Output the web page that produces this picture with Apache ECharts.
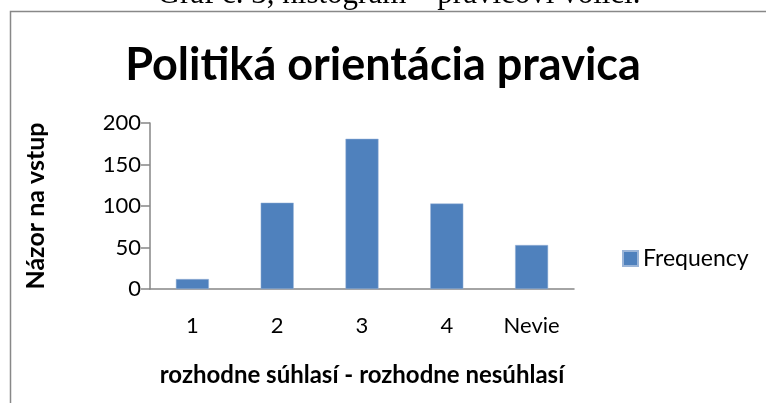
<!DOCTYPE html>
<html>
<head>
<meta charset="utf-8">
<script src="https://cdn.jsdelivr.net/npm/echarts@6/dist/echarts.min.js"></script>
<style>
  html, body { margin: 0; padding: 0; background: #fff; }
  #chart { width: 766px; height: 403px; }
</style>
</head>
<body>
<div id="chart"></div>
<script>
const categories = ['1', '2', '3', '4', 'Nevie']
const frequency = [12, 104, 181, 103, 53]
const yTicks = [0, 50, 100, 150, 200]

const chart = echarts.init(document.getElementById('chart'))
chart.setOption({
  animation: false,
  textStyle: { fontFamily: 'Lato' },
  graphic: [
    // caption of the page, cut off at the top edge
    {
      type: 'text', x: 399, y: 10,
      style: {
        text: 'Graf č. 3, histogram – pravicoví voliči.',
        font: '31px "Liberation Serif"', fill: '#000',
        align: 'center', verticalAlign: 'bottom'
      }
    },
    {
      type: 'rect', shape: { x: 10.5, y: 11.5, width: 800, height: 420 },
      style: { fill: 'none', stroke: '#888', lineWidth: 1.5 }
    }
  ],
  title: {
    text: 'Politiká orientácia pravica',
    left: 'center', top: 38,
    textStyle: { fontFamily: 'Lato', fontWeight: 'bold', fontSize: 45, color: '#000' }
  },
  legend: {
    data: ['Frequency'],
    left: 617, top: 242,
    icon: 'rect', itemWidth: 15, itemHeight: 15, itemGap: 5,
    textStyle: { fontFamily: 'Lato', fontSize: 23, color: '#000' }
  },
  grid: { left: 150, right: 192, top: 123, bottom: 114 },
  xAxis: {
    type: 'category',
    data: categories,
    name: 'rozhodne súhlasí - rozhodne nesúhlasí',
    nameLocation: 'middle', nameGap: 74,
    nameTextStyle: { fontFamily: 'Lato', fontWeight: 'bold', fontSize: 24, color: '#000' },
    axisLine: { lineStyle: { color: '#868686', width: 1.5 } },
    axisTick: { length: 8, lineStyle: { color: '#868686', width: 1.5 } },
    axisLabel: { fontFamily: 'Lato', fontSize: 22, color: '#000', margin: 26 }
  },
  yAxis: {
    type: 'value',
    min: yTicks[0], max: yTicks[yTicks.length - 1], interval: yTicks[1] - yTicks[0],
    name: 'Názor na vstup',
    nameLocation: 'middle', nameGap: 102, nameRotate: 90,
    nameTextStyle: { fontFamily: 'Lato', fontWeight: 'bold', fontSize: 25, color: '#000' },
    axisLine: { show: true, lineStyle: { color: '#868686', width: 1.5 } },
    axisTick: { show: true, length: 9, lineStyle: { color: '#868686', width: 1.5 } },
    axisLabel: { fontFamily: 'Lato', fontSize: 22, color: '#000', margin: 9 },
    splitLine: { show: false }
  },
  series: [{
    name: 'Frequency',
    type: 'bar',
    data: frequency,
    barWidth: 33,
    itemStyle: { color: '#4f81bd', borderColor: '#9bb5d8', borderWidth: 0.5 }
  }]
})
</script>
</body>
</html>
